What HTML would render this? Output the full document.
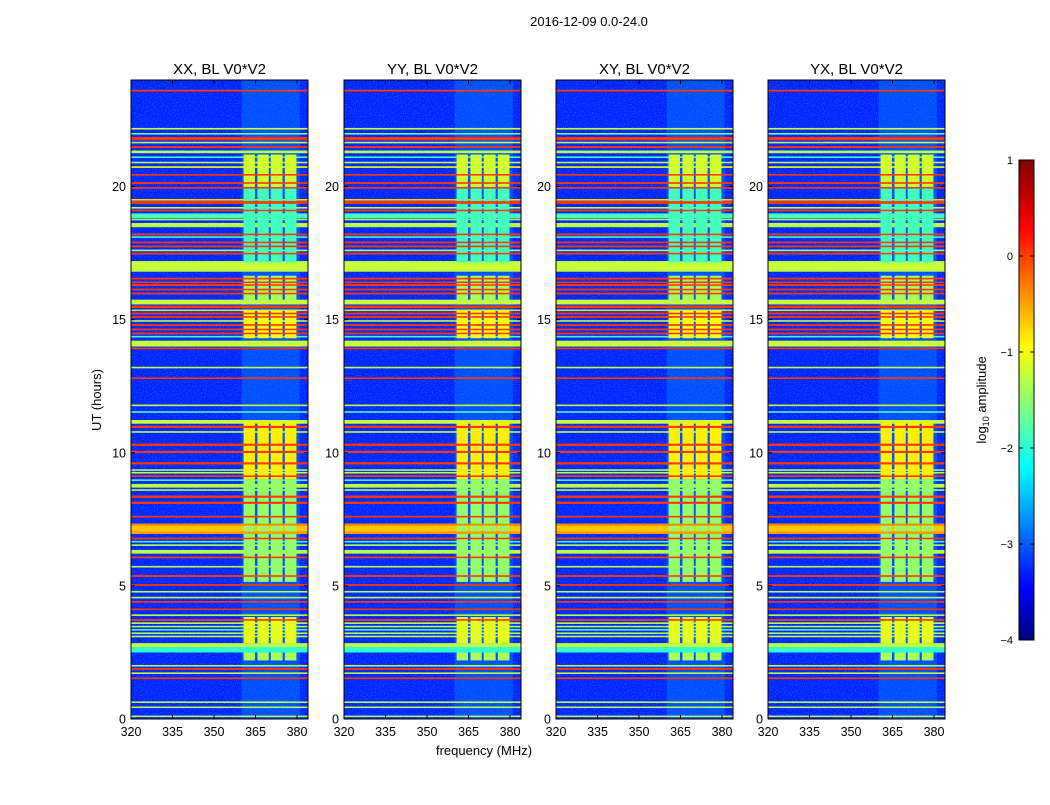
<!DOCTYPE html>
<html><head><meta charset="utf-8">
<style>
body{margin:0;background:#fff;}
svg text{font-family:"Liberation Sans",sans-serif;fill:#000;}
</style></head>
<body>
<svg id="c" width="1050" height="800" xmlns="http://www.w3.org/2000/svg">
<defs>
<filter id="noise" x="0" y="0" width="100%" height="100%">
<feTurbulence type="fractalNoise" baseFrequency="0.9" numOctaves="1" seed="3"/>
<feColorMatrix type="matrix" values="0 0 0 0 0.1  0 0 0 0 0.5  0 0 0 0 1  0 0 0 2.2 -1.1"/>
</filter>
<linearGradient id="jetgrad" x1="0" y1="1" x2="0" y2="0">
<stop offset="0" stop-color="#00007f"/><stop offset="0.11" stop-color="#0000ff"/>
<stop offset="0.36" stop-color="#00ffff"/><stop offset="0.61" stop-color="#ffff00"/>
<stop offset="0.86" stop-color="#ff0000"/><stop offset="1" stop-color="#7f0000"/>
</linearGradient>
</defs>
<text x="589" y="26" font-size="13" text-anchor="middle">2016-12-09 0.0-24.0</text>
<text x="484" y="755" font-size="13" text-anchor="middle">frequency (MHz)</text>
<text transform="translate(101,400) rotate(-90)" font-size="13" text-anchor="middle">UT (hours)</text>
<g id="panels"></g>
<g>
<rect x="1019" y="160" width="15" height="480" fill="url(#jetgrad)" stroke="#000" stroke-width="1"/>
<text transform="translate(986,400) rotate(-90)" font-size="13" text-anchor="middle">log<tspan font-size="9" dy="3">10</tspan><tspan dy="-3"> amplitude</tspan></text>
<g id="cbticks"></g>
</g>
</svg>
<script>
const titles=["XX, BL V0*V2","YY, BL V0*V2","XY, BL V0*V2","YX, BL V0*V2"];
const panelLeft=[131,344,556,768];
const xTicks=[320,335,350,365,380];
const yTicks=[0,5,10,15,20];
const cbTicks=[1,0,-1,-2,-3,-4];
// horizontal RFI lines: hour, log10 amplitude, thickness (hours)
const lineHours=[23.6,22.17,21.98,21.8,21.65,21.48,21.3,21.1,20.9,20.73,20.44,20.13,19.95,19.5,19.4,19.2,19.1,18.9,18.76,18.55,18.2,18.1,17.9,17.75,17.6,17.48,17.0,16.54,16.4,16.3,16.13,15.98,15.66,15.48,15.35,15.23,15.1,14.95,14.8,14.63,14.48,14.36,14.1,13.92,13.2,12.8,
11.78,11.53,11.16,10.97,10.78,10.3,10.03,9.6,9.35,9.25,9.12,8.97,8.76,8.6,8.35,8.12,7.6,7.14,7.3,7.0,6.78,6.66,6.53,6.28,6.07,5.72,5.37,5.03,4.78,4.56,4.4,4.12,3.9,3.72,3.6,3.47,3.35,3.22,3.1,2.75,2.6,2.0,1.88,1.72,1.53,0.63,0.44,0.1];
const lineValues=[0.1,-1.1,-1.6,0.1,-1.2,0.1,-1.2,-1.8,-1.2,-0.9,0.1,0.1,0.1,-0.7,0.1,-1.2,0.1,-1.8,-1.2,-1.2,0.1,-1.8,0.1,0.1,-1.2,0.1,-1.15,0.1,0.1,0.1,0.1,0.1,-1.15,0.1,-0.7,0.1,0.1,-1.2,0.1,0.1,0.1,-1.8,-1.15,0.1,-1.2,0.1,
-1.2,-1.8,-1.15,0.1,-1.2,0.1,0.1,0.1,-1.2,-1.2,0.1,-1.8,-1.2,-1.2,0.1,0.1,0.1,-0.6,-0.3,-0.4,0.1,-1.8,-1.2,-1.2,0.1,-1.2,0.1,0.1,-1.2,-1.2,0.1,0.1,-1.2,0.1,-1.2,-1.2,-1.8,-1.2,-1.2,-1.2,-1.9,-1.2,0.1,-1.2,0.1,-1.2,-1.2,-1.2];
const lineWidths=[0.06,0.06,0.06,0.12,0.06,0.06,0.1,0.06,0.06,0.06,0.06,0.06,0.06,0.06,0.1,0.06,0.06,0.18,0.06,0.16,0.06,0.06,0.06,0.06,0.06,0.06,0.4,0.06,0.06,0.06,0.06,0.06,0.18,0.08,0.06,0.06,0.06,0.06,0.06,0.06,0.06,0.06,0.22,0.06,0.06,0.06,
0.06,0.06,0.14,0.08,0.06,0.08,0.08,0.08,0.06,0.06,0.06,0.06,0.14,0.06,0.08,0.08,0.06,0.3,0.08,0.1,0.06,0.06,0.06,0.14,0.06,0.06,0.06,0.06,0.06,0.06,0.06,0.06,0.06,0.06,0.06,0.06,0.06,0.06,0.06,0.2,0.2,0.06,0.06,0.06,0.06,0.06,0.06,0.06];
// bright frequency blocks (MHz ranges) and their time segments
const blockStart=[360.7,365.7,370.5,375.6];
const blockEnd=[364.8,369.8,374.8,379.8];
const segStart=[21.2,20.0,16.65,15.35,11.15,9.0,3.83,2.5];
const segEnd=[20.0,17.15,15.7,14.3,9.0,5.15,2.85,2.2];
const segValue=[-1.1,-1.8,-1.3,-0.9,-0.8,-1.4,-1.0,-1.3];
const bgValue=-3.2, bandValue=-2.6;

const NS="http://www.w3.org/2000/svg";
function jet(v){const t=(v+4)/5;const c=x=>Math.round(255*Math.max(0,Math.min(1,1.5-Math.abs(4*t-x))));return `rgb(${c(3)},${c(2)},${c(1)})`;}
function el(tag,attrs,parent){const e=document.createElementNS(NS,tag);for(const k in attrs)e.setAttribute(k,attrs[k]);parent.appendChild(e);return e;}
const W=177,yTop=80,yBot=719;
const yS=h=>yBot-(yBot-yTop)*h/24;
const root=document.getElementById('panels');
panelLeft.forEach((L,pi)=>{
  const xS=f=>L+(f-320)*(297-131)/60;
  const g=el('g',{},root);
  
  
  const cp=el('clipPath',{id:'cp'+pi},g);
  el('rect',{x:L,y:yTop,width:W,height:yBot-yTop},cp);
  const img=el('g',{'clip-path':`url(#cp${pi})`},g);
  el('rect',{x:L,y:yTop,width:W,height:yBot-yTop,fill:jet(bgValue)},img);
  el('rect',{x:L,y:yTop,width:W,height:yBot-yTop,filter:'url(#noise)',opacity:0.6},img);
  el('rect',{x:xS(360),y:yTop,width:xS(381)-xS(360),height:yBot-yTop,fill:jet(bandValue),opacity:0.35},img);
  const drawLines=(minV)=>lineHours.forEach((h,i)=>{
    if(lineValues[i]<minV)return;
    const r=el('rect',{x:L,y:yS(h+lineWidths[i]/2),width:W,height:Math.max(1.2,(yBot-yTop)*lineWidths[i]/24),fill:jet(lineValues[i])},img);
    
    
  });
  drawLines(-9);
  segStart.forEach((s,si)=>blockStart.forEach((b,bi)=>{
    const r=el('rect',{x:xS(b),y:yS(s),width:xS(blockEnd[bi])-xS(b),height:yS(segEnd[si])-yS(s),fill:jet(segValue[si])},img);
    
    
  }));
  drawLines(-0.5);
  el('rect',{x:L,y:yTop,width:W,height:yBot-yTop,fill:'none',stroke:'#000','stroke-width':1},g);
  const t=el('text',{x:L+W/2,y:74,'font-size':15,'text-anchor':'middle'},g);t.textContent=titles[pi];
  
  
  xTicks.forEach(v=>{const x=xS(v);
    el('line',{x1:x,x2:x,y1:yBot,y2:yBot-4,stroke:'#000'},g);el('line',{x1:x,x2:x,y1:yTop,y2:yTop+4,stroke:'#000'},g);
    const tx=el('text',{x:x,y:yBot+17,'font-size':12.5,'text-anchor':'middle'},g);tx.textContent=v;
    
    });
  yTicks.forEach(v=>{const y=yS(v);
    el('line',{x1:L,x2:L+4,y1:y,y2:y,stroke:'#000'},g);el('line',{x1:L+W,x2:L+W-4,y1:y,y2:y,stroke:'#000'},g);
    const ty=el('text',{x:L-5,y:y+4.5,'font-size':12.5,'text-anchor':'end'},g);ty.textContent=v;
    
    });
});
const cb=document.getElementById('cbticks');
cbTicks.forEach(v=>{const y=160+(1-v)*96;
  el('line',{x1:1019,x2:1023,y1:y,y2:y,stroke:'#000'},cb);el('line',{x1:1030,x2:1034,y1:y,y2:y,stroke:'#000'},cb);
  const t=el('text',{x:1013,y:y+4,'font-size':11,'text-anchor':'end'},cb);t.textContent=v<0?'\u2212'+(-v):v;
  
  });
</script>
</body></html>
